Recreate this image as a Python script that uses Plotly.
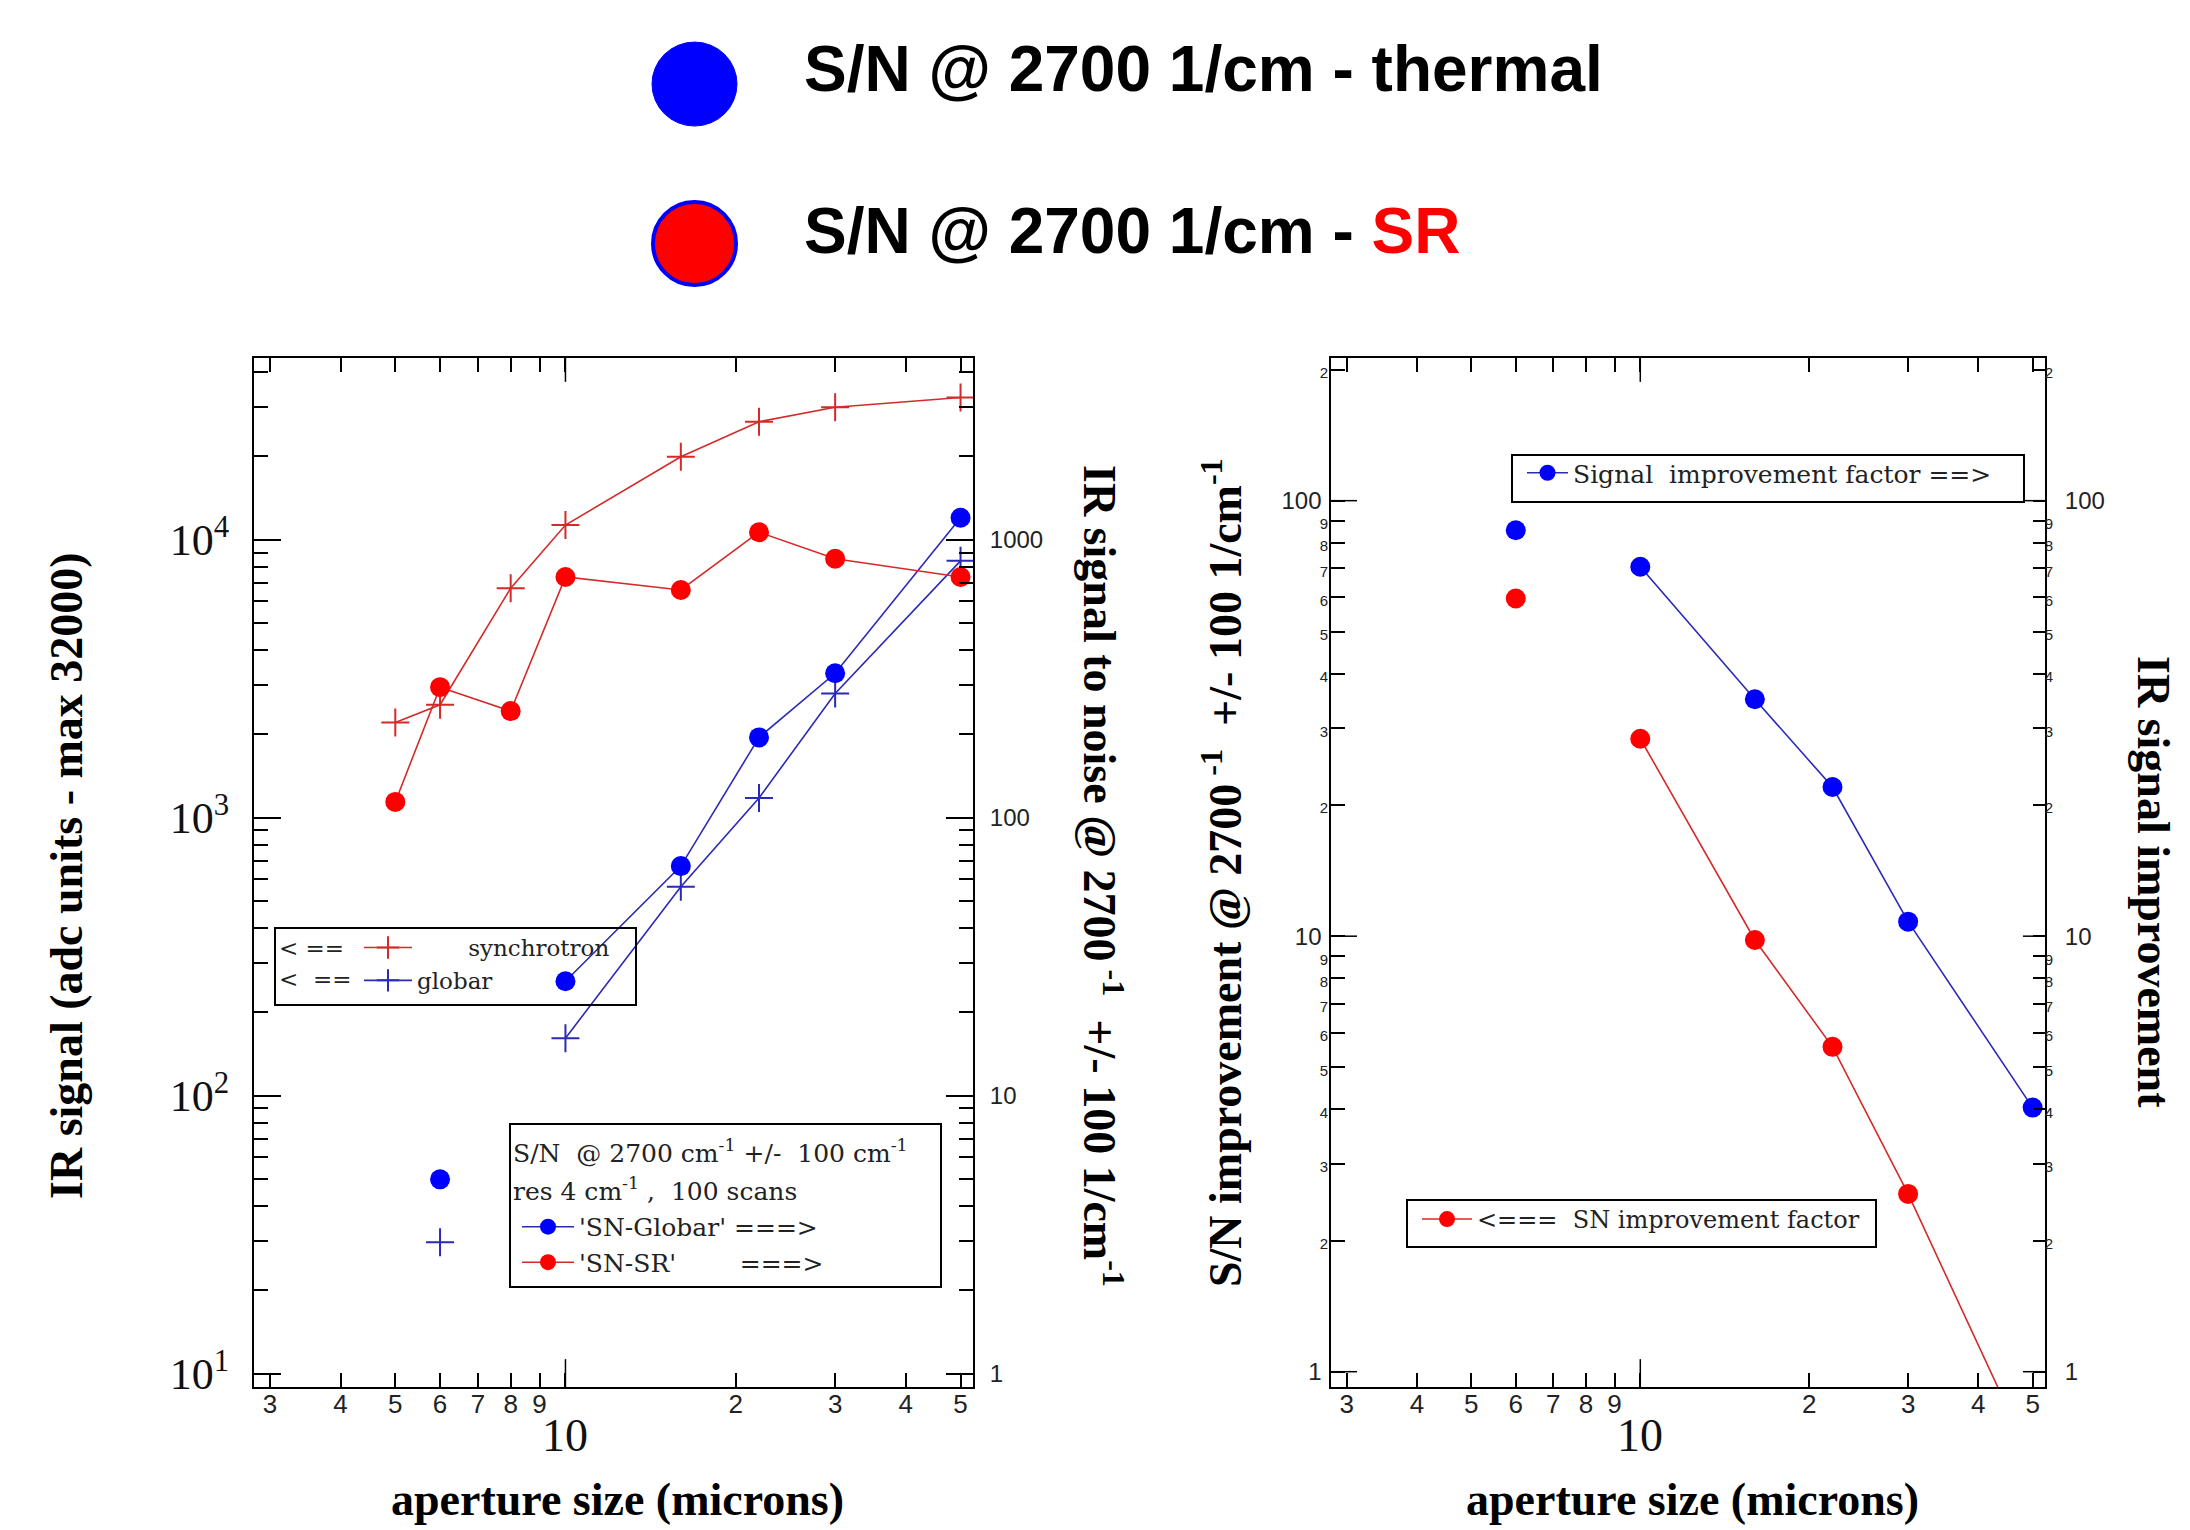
import math
import plotly.graph_objects as go

# ---------------- data ----------------
aperture = [5, 6, 8, 10, 16, 22, 30, 50]  # aperture size (microns)
synchrotron_signal = [2200, 2550, 6700, 11300, 19900, 26600, 30000, 32500]
globar_signal = [None, 29.7, None, 161, 565, 1178, 2800, 8400]
sn_sr = [114, 295, 242, 735, 660, 1065, 855, 735]
sn_globar = [None, 5.0, None, 25.8, 67.0, 194.5, 331, 1200]

signal_improvement = [None, 85.5, None, 70.5, 35.0, 22.0, 10.8, 4.04]
sn_improvement = [None, 59.6, None, 28.4, 9.8, 5.57, 2.56, 0.62]

# ---------------- tick labels ----------------
x_tickvals = [3, 4, 5, 6, 7, 8, 9, 10, 20, 30, 40, 50]
x_ticktext = ["3", "4", "5", "6", "7", "8", "9", "", "2", "3", "4", "5"]
x_decades = [10]

sig_major = [10, 100, 1000, 10000]
sig_major_text = ["10<sup>1</sup>", "10<sup>2</sup>", "10<sup>3</sup>", "10<sup>4</sup>"]
sig_minor = [20, 30, 40, 50, 60, 70, 80, 90, 200, 300, 400, 500, 600, 700, 800, 900,
             2000, 3000, 4000, 5000, 6000, 7000, 8000, 9000, 20000, 30000, 40000]
snr_major = [1, 10, 100, 1000]
snr_major_text = ["1", "10", "100", "1000"]
snr_minor = [2, 3, 4, 5, 6, 7, 8, 9, 20, 30, 40, 50, 60, 70, 80, 90,
             200, 300, 400, 500, 600, 700, 800, 900, 2000, 3000, 4000]

impr_tickvals = [1, 2, 3, 4, 5, 6, 7, 8, 9, 10, 20, 30, 40, 50, 60, 70, 80, 90, 100, 200]
impr_labels = ["1", "2", "3", "4", "5", "6", "7", "8", "9", "10", "2", "3", "4", "5",
               "6", "7", "8", "9", "100", "2"]
impr_decades = [1, 10, 100]

# ---------------- geometry ----------------
# target positions are given in reference pixels; the page keeps an 8px body
# margin and the captured height is slightly taller than the final picture.
OFF = 8
VSCALE = 1542 / 1530
FW, FH = 2190 - 2 * OFF, 1526
def px(x):
    return (x - OFF) / FW
def py(y):
    return (FH - (y * VSCALE - OFF)) / FH

L_X = [px(254), px(973)]
R_X = [px(1331), px(2045)]
Y_DOM = [py(1387), py(358)]
PLOT_H = (1387 - 358) * VSCALE
R_W = 2045 - 1331

X_RANGE = [0.449, 1.721]

RED_LINE = "#d42a2a"
RED_MARK = "#ff0000"
BLUE_LINE = "#2a2ab4"
BLUE_MARK = "#0000ff"

SERIF = "Liberation Serif, Times New Roman, serif"
LEG_FONT = dict(family="DejaVu Serif, serif", size=25, color="#222")
LEG_FONT1 = dict(family="DejaVu Serif, serif", size=23, color="#222")
LEG_FONT4 = dict(family="DejaVu Serif, serif", size=24, color="#222")
SANS = "Liberation Sans, Arial, sans-serif"

fig = go.Figure()

# ---- left panel ----
fig.add_trace(go.Scatter(
    x=aperture, y=synchrotron_signal, mode="lines+markers",
    name="\u00a0" * 7 + "synchrotron", legend="legend",
    line=dict(color=RED_LINE, width=1.6),
    marker=dict(symbol="cross-thin", size=20, line=dict(color=RED_LINE, width=2)),
    xaxis="x", yaxis="y", connectgaps=False))
fig.add_trace(go.Scatter(
    x=aperture, y=globar_signal, mode="lines+markers",
    name="globar", legend="legend",
    line=dict(color=BLUE_LINE, width=1.6),
    marker=dict(symbol="cross-thin", size=20, line=dict(color=BLUE_LINE, width=2)),
    xaxis="x", yaxis="y", connectgaps=False))
fig.add_trace(go.Scatter(
    x=aperture, y=sn_globar, mode="lines+markers",
    name="'SN-Globar' ===>", legend="legend2",
    line=dict(color=BLUE_LINE, width=1.6),
    marker=dict(symbol="circle", size=20, color=BLUE_MARK),
    xaxis="x", yaxis="y2", connectgaps=False))
fig.add_trace(go.Scatter(
    x=aperture, y=sn_sr, mode="lines+markers",
    name="'SN-SR'" + "\u00a0" * 8 + "===>", legend="legend2",
    line=dict(color=RED_LINE, width=1.6),
    marker=dict(symbol="circle", size=20, color=RED_MARK),
    xaxis="x", yaxis="y2", connectgaps=False))

# ---- right panel ----
fig.add_trace(go.Scatter(
    x=aperture, y=signal_improvement, mode="lines+markers",
    name="Signal\u00a0\u00a0improvement factor ==>", legend="legend3",
    line=dict(color=BLUE_LINE, width=1.6),
    marker=dict(symbol="circle", size=20, color=BLUE_MARK),
    xaxis="x2", yaxis="y4", connectgaps=False))
fig.add_trace(go.Scatter(
    x=aperture, y=sn_improvement, mode="lines+markers",
    name="<===\u00a0\u00a0SN improvement factor", legend="legend4",
    line=dict(color=RED_LINE, width=1.6),
    marker=dict(symbol="circle", size=20, color=RED_MARK),
    xaxis="x2", yaxis="y3", connectgaps=False))

# ---------------- axes ----------------
def xaxis(domain, anchor):
    return dict(type="log", range=X_RANGE, domain=domain, anchor=anchor,
                tickmode="array", tickvals=x_tickvals, ticktext=x_ticktext,
                ticks="inside", ticklen=14, tickwidth=1.5, tickcolor="black",
                mirror="ticks", showline=True, linecolor="black", linewidth=2,
                showgrid=False, zeroline=False, ticklabelstandoff=-7,
                tickfont=dict(family=SANS, size=26, color="#222"))

impr_text_left = []
impr_text_right = []
for v, t in zip(impr_tickvals, impr_labels):
    if v in impr_decades:
        impr_text_left.append(t + "\u00a0")
        impr_text_right.append("\u00a0\u00a0\u00a0" + t)
    else:
        s = "<span style='font-size:15px'>" + t + "</span>"
        impr_text_left.append(s)
        impr_text_right.append(s)

IMPR_RANGE = [-0.035, 2.3275]

layout_axes = dict(
    xaxis=xaxis(L_X, "y"),
    xaxis2=xaxis(R_X, "y3"),
    yaxis=dict(type="log", range=[0.952, 4.654], domain=Y_DOM, anchor="x",
               tickmode="array", tickvals=sig_major, ticktext=sig_major_text,
               ticks="inside", ticklen=27, tickwidth=1.5, tickcolor="black",
               minor=dict(tickmode="array", tickvals=sig_minor, ticks="inside",
                          ticklen=14, tickwidth=1.5, tickcolor="black", showgrid=False),
               showline=True, linecolor="black", linewidth=2, showgrid=False,
               zeroline=False, ticklabelstandoff=14,
               tickfont=dict(family=SERIF, size=44, color="#111")),
    yaxis2=dict(type="log", range=[-0.048, 3.654], overlaying="y", side="right",
                anchor="x", tickmode="array", tickvals=snr_major, ticktext=snr_major_text,
                ticks="inside", ticklen=27, tickwidth=1.5, tickcolor="black",
                minor=dict(tickmode="array", tickvals=snr_minor, ticks="inside",
                           ticklen=14, tickwidth=1.5, tickcolor="black", showgrid=False),
                showline=True, linecolor="black", linewidth=2, showgrid=False,
                zeroline=False, ticklabelstandoff=10,
                tickfont=dict(family=SANS, size=24, color="#222")),
    yaxis3=dict(type="log", range=IMPR_RANGE, domain=Y_DOM, anchor="x2",
                tickmode="array", tickvals=impr_tickvals, ticktext=impr_text_left,
                ticks="inside", ticklen=14, tickwidth=1.5, tickcolor="black",
                showline=True, linecolor="black", linewidth=2, showgrid=False,
                zeroline=False, ticklabelstandoff=-4,
                tickfont=dict(family=SANS, size=24, color="#222")),
    yaxis4=dict(type="log", range=IMPR_RANGE, overlaying="y3", side="right",
                anchor="x2", tickmode="array", tickvals=impr_tickvals,
                ticktext=impr_text_right,
                ticks="inside", ticklen=12, tickwidth=1.5, tickcolor="black",
                showline=True, linecolor="black", linewidth=2, showgrid=False,
                zeroline=False, ticklabelstandoff=-7,
                tickfont=dict(family=SANS, size=24, color="#222")),
)

# ---------------- shapes ----------------
shapes = []
for xr, yr in (("x", "y domain"), ("x2", "y3 domain")):
    for v in x_decades:
        shapes.append(dict(type="line", xref=xr, yref=yr, x0=v, x1=v, y0=0, y1=28 / PLOT_H,
                           line=dict(color="black", width=1.5)))
        shapes.append(dict(type="line", xref=xr, yref=yr, x0=v, x1=v, y0=1, y1=1 - 24 / PLOT_H,
                           line=dict(color="black", width=1.5)))
for v in impr_decades:
    shapes.append(dict(type="line", xref="x2 domain", yref="y3", x0=0, x1=26 / R_W, y0=v, y1=v,
                       line=dict(color="black", width=1.5)))
    shapes.append(dict(type="line", xref="x2 domain", yref="y3", x0=1, x1=1 - 22 / R_W, y0=v, y1=v,
                       line=dict(color="black", width=1.5)))

def box(x0, y0, x1, y1):
    return dict(type="rect", xref="paper", yref="paper", x0=px(x0), x1=px(x1),
                y0=py(y1), y1=py(y0), line=dict(color="black", width=2),
                fillcolor="rgba(0,0,0,0)", layer="above")
shapes += [box(275, 928, 636, 1005), box(510, 1124, 941, 1287),
           box(1512, 455, 2024, 502), box(1407, 1200, 1876, 1247)]

shapes.append(dict(type="circle", xref="paper", yref="paper",
                   x0=px(652), x1=px(737), y0=py(126), y1=py(42),
                   fillcolor="#0000ff", line=dict(color="#0000ff", width=1)))
shapes.append(dict(type="circle", xref="paper", yref="paper",
                   x0=px(653), x1=px(736), y0=py(285), y1=py(202),
                   fillcolor="#ff0000", line=dict(color="#0000ff", width=4)))

# ---------------- annotations ----------------
TITLE_FONT = dict(family=SERIF, size=46, color="black", weight="bold")
def note(text, x, y, font, xanchor="center", yanchor="middle", angle=0, xref="paper"):
    return dict(text=text, xref=xref, yref="paper", x=x, y=y, xanchor=xanchor,
                yanchor=yanchor, textangle=angle, showarrow=False, font=font)

TOP_FONT = dict(family=SANS, size=64, color="black", weight="bold")
ann = [
    note("S/N @ 2700 1/cm - thermal", px(802), py(69), TOP_FONT, xanchor="left"),
    note("S/N @ 2700 1/cm - <span style='color:#ff0000'>SR</span>", px(802), py(231),
         TOP_FONT, xanchor="left"),
    note("IR signal (adc units - max 32000)", px(67), py(876), TITLE_FONT, angle=-90),
    note("IR signal to noise @ 2700<sup> -1</sup>  +/- 100 1/cm<sup>-1</sup>",
         px(1103), py(876), TITLE_FONT, angle=90),
    note("S/N improvement @ 2700<sup> -1</sup>  +/- 100 1/cm<sup>-1</sup>",
         px(1222), py(873), TITLE_FONT, angle=-90),
    note("IR signal improvement", px(2153), py(882), TITLE_FONT, angle=90),
    note("aperture size (microns)", px(617), py(1500), TITLE_FONT),
    note("aperture size (microns)", px(1692), py(1500), TITLE_FONT),
    note("< ==", px(277), py(948), LEG_FONT1, xanchor="left"),
    note("<\u00a0 ==", px(277), py(979), LEG_FONT1, xanchor="left"),
    note("S/N\u00a0 @ 2700 cm<sup>-1</sup> +/-\u00a0 100 cm<sup>-1</sup>",
         px(511), py(1152), LEG_FONT, xanchor="left"),
    note("res 4 cm<sup>-1</sup> ,\u00a0 100 scans", px(511), py(1190), LEG_FONT, xanchor="left"),
]
for xr in ("x", "x2"):
    for v in x_decades:
        ann.append(note(str(v), math.log10(v), py(1436),
                        dict(family=SERIF, size=46, color="#111"), xref=xr))

def leg(x, ytop, itemwidth, font):
    return dict(x=px(x), xanchor="left", y=py(ytop), yanchor="top",
                bgcolor="rgba(0,0,0,0)", borderwidth=0, font=font,
                itemwidth=itemwidth, tracegroupgap=0, orientation="v")

fig.update_layout(
    width=FW, height=FH, autosize=False,
    margin=dict(l=0, r=0, t=0, b=0),
    paper_bgcolor="white", plot_bgcolor="white",
    showlegend=True,
    legend=leg(359, 926, 48, LEG_FONT1),
    legend2=leg(517, 1204, 52, LEG_FONT),
    legend3=leg(1522, 450, 41, LEG_FONT),
    legend4=leg(1417, 1197, 50, LEG_FONT4),
    shapes=shapes, annotations=ann,
    **layout_axes,
)

fig.write_html("out.html")
